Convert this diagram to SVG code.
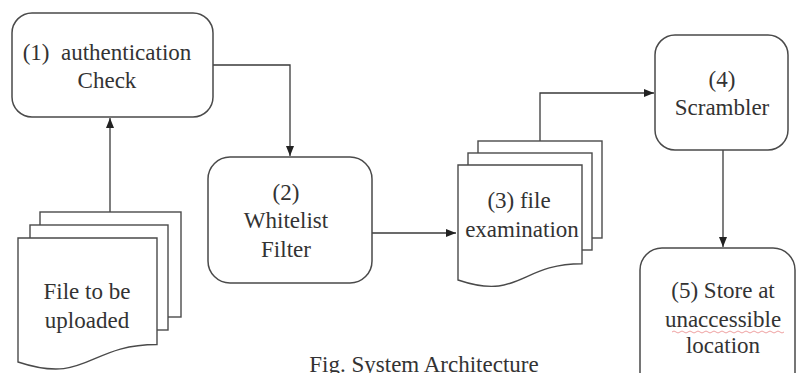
<svg xmlns="http://www.w3.org/2000/svg" width="796" height="373" viewBox="0 0 796 373">
<style>
.box{fill:#fff;stroke:#4a4a4a;stroke-width:1.5}
.sheet{fill:#fff;stroke:#4a4a4a;stroke-width:1.4}
.conn{fill:none;stroke:#3a3a3a;stroke-width:1.3}
.lbl{font-family:'Liberation Serif','Times New Roman',serif;font-size:23px;fill:#333;text-anchor:middle}
</style>
<defs>
<marker id="arr" markerUnits="userSpaceOnUse" markerWidth="10" markerHeight="10" viewBox="0 0 10 10" refX="10" refY="5" orient="auto">
<path d="M0,1 L10,5 L0,9 Z" fill="#222"/>
</marker>
</defs>
<rect width="796" height="373" fill="#fff"/>
<g id="connectors">
<path class="conn" d="M110,212 V118" marker-end="url(#arr)"/>
<path class="conn" d="M213,65 H290 V156" marker-end="url(#arr)"/>
<path class="conn" d="M372,233 H456" marker-end="url(#arr)"/>
<path class="conn" d="M540,141 V93 H654" marker-end="url(#arr)"/>
<path class="conn" d="M723,150 V247" marker-end="url(#arr)"/>
</g>
<g id="node1">
<rect class="box" x="12" y="13" width="201" height="104" rx="20"/>
<g class="lbl"><text x="107" y="60" xml:space="preserve">(1)  authentication</text><text x="107" y="88">Check</text></g>
</g>
<g id="file1">
<rect class="sheet" x="40" y="212" width="141" height="105"/>
<rect class="sheet" x="30" y="225" width="138" height="105"/>
<path class="sheet" d="M18,238 H157 V344.5 C87.5,344.5 87.5,385 18,362 Z"/>
<g class="lbl"><text x="87" y="299">File to be</text><text x="87" y="328">uploaded</text></g>
</g>
<g id="node2">
<rect class="box" x="208" y="157" width="164" height="126" rx="22"/>
<g class="lbl"><text x="286" y="200">(2)</text><text x="286" y="228">Whitelist</text><text x="286" y="257">Filter</text></g>
</g>
<g id="node3">
<rect class="sheet" x="478" y="141" width="124" height="97"/>
<rect class="sheet" x="468" y="153" width="124" height="97"/>
<path class="sheet" d="M458,165 H582 V263.7 C520,263.7 520,301 458,280 Z"/>
<g class="lbl"><text x="519" y="208">(3) file</text><text x="522" y="237">examination</text></g>
</g>
<g id="node4">
<rect class="box" x="655" y="35" width="133" height="115" rx="20"/>
<g class="lbl"><text x="722" y="87">(4)</text><text x="722" y="115">Scrambler</text></g>
</g>
<g id="node5">
<rect class="box" x="640" y="248" width="155" height="150" rx="22"/>
<g class="lbl"><text x="723" y="298">(5) Store at</text><text x="723" y="327">unaccessible</text><text x="723" y="353">location</text></g>
<path d="M672,332 q2,-2 4,0 t4,0 t4,0 t4,0 t4,0 t4,0 t4,0 t4,0 t4,0 t4,0 t4,0 t4,0 t4,0 t4,0 t4,0 t4,0 t4,0 t4,0 t4,0 t4,0 t4,0 t4,0 t4,0 t4,0 t4,0 t4,0 t4,0 t4,0" fill="none" stroke="#e05050" stroke-width="0.9" opacity="0.6"/>
</g>
<g id="caption" class="lbl">
<text x="424" y="372">Fig. System Architecture</text>
</g>
</svg>
